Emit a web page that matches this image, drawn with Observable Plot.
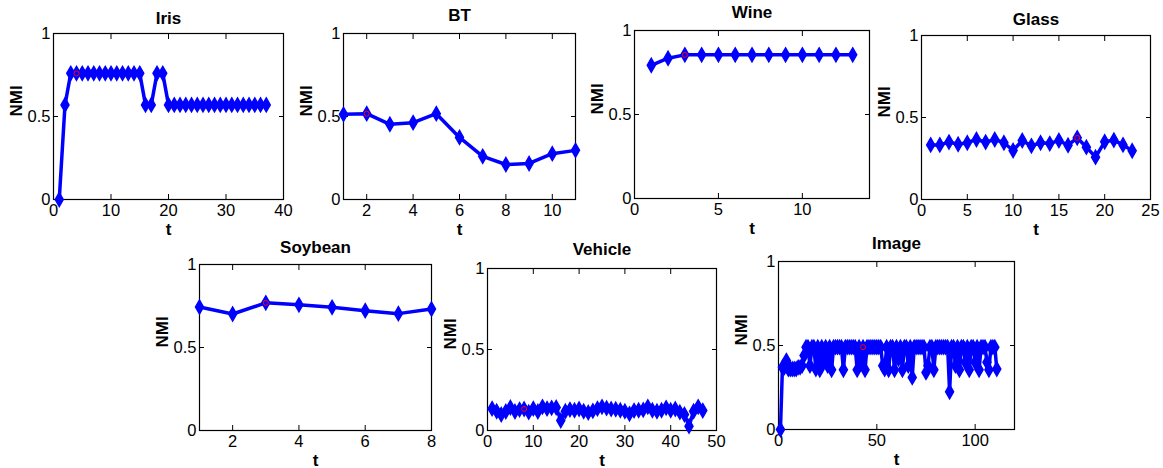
<!DOCTYPE html>
<html><head><meta charset="utf-8">
<script src="https://cdn.jsdelivr.net/npm/d3@7"></script>
<script src="https://cdn.jsdelivr.net/npm/@observablehq/plot@0.6"></script>
<style>
body{margin:0;background:#fff;overflow:hidden}
#wrap{position:relative;width:1163px;height:468px;overflow:hidden;background:#fff}
#wrap svg{position:absolute;overflow:visible}
</style></head><body><div id="wrap"></div>
<script>
// ---- data ----
const titles = ["Iris", "BT", "Wine", "Glass", "Soybean", "Vehicle", "Image"];
const iris = [0, 0.57, 0.76, 0.76, 0.76, 0.76, 0.76, 0.76, 0.76, 0.76, 0.76, 0.76, 0.76, 0.76, 0.76,
  0.57, 0.57, 0.76, 0.76,
  0.57, 0.57, 0.57, 0.57, 0.57, 0.57, 0.57, 0.57, 0.57, 0.57, 0.57, 0.57, 0.57, 0.57, 0.57, 0.57, 0.57, 0.57];
const bt = [0.513, 0.517, 0.453, 0.463, 0.517, 0.374, 0.26, 0.211, 0.217, 0.276, 0.296];
const wine = [0.793, 0.835, 0.855, 0.855, 0.855, 0.855, 0.855, 0.855, 0.855, 0.855, 0.855, 0.855, 0.855];
const glass = [0.333, 0.333, 0.35, 0.337, 0.346, 0.366, 0.35, 0.366, 0.346, 0.299, 0.36, 0.327, 0.346,
  0.341, 0.36, 0.331, 0.376, 0.319, 0.258, 0.352, 0.362, 0.333, 0.297];
const soybean = [0.744, 0.702, 0.769, 0.757, 0.742, 0.722, 0.704, 0.732];
const vehicle = [0.135, 0.119, 0.099, 0.117, 0.142, 0.117, 0.129, 0.133, 0.113, 0.135, 0.117, 0.146,
  0.135, 0.14, 0.142, 0.062, 0.119, 0.129, 0.125, 0.133, 0.119, 0.111, 0.121, 0.135, 0.146, 0.138,
  0.133, 0.131, 0.125, 0.119, 0.103, 0.123, 0.125, 0.127, 0.146, 0.125, 0.119, 0.125, 0.14, 0.125,
  0.133, 0.113, 0.099, 0.027, 0.119, 0.146, 0.123];
const image = [0, 0.37, 0.37, 0.41, 0.36, 0.36, 0.36, 0.36, 0.36, 0.37, 0.37, 0.38, 0.44, 0.49, 0.49,
  0.38, 0.49, 0.49, 0.36, 0.49, 0.355, 0.49, 0.40, 0.49, 0.38, 0.49, 0.355, 0.49, 0.49, 0.49,
  0.49, 0.49, 0.355, 0.49, 0.49, 0.49, 0.49, 0.49, 0.49, 0.355, 0.49, 0.40, 0.49, 0.355, 0.49,
  0.49, 0.49, 0.49, 0.49, 0.49, 0.49, 0.49, 0.38, 0.36, 0.49, 0.355, 0.49, 0.49, 0.355, 0.49,
  0.42, 0.49, 0.355, 0.49, 0.49, 0.38, 0.49, 0.31, 0.49, 0.49, 0.49, 0.49, 0.49, 0.49, 0.34,
  0.38, 0.49, 0.49, 0.355, 0.49, 0.49, 0.49, 0.49, 0.49, 0.49, 0.49, 0.225, 0.49, 0.49, 0.38,
  0.49, 0.355, 0.49, 0.49, 0.40, 0.49, 0.355, 0.49, 0.49, 0.40, 0.49, 0.355, 0.49, 0.49, 0.49,
  0.40, 0.355, 0.49, 0.49, 0.49, 0.36];
const series = [iris, bt, wine, glass, soybean, vehicle, image];
const bestT = [4, 2, 3, 17, 3, 8, 43];
const xDomains = [[0, 40], [1, 11], [0, 14], [0, 25], [1, 8], [0, 50], [0, 120]];
const xTicks = [[0, 10, 20, 30, 40], [2, 4, 6, 8, 10], [0, 5, 10], [0, 5, 10, 15, 20, 25],
  [2, 4, 6, 8], [0, 10, 20, 30, 40, 50], [0, 50, 100]];
const yTicks = [0, 0.5, 1];
const yLabel = "NMI";
const xLabel = "t";

// ---- layout (frame left, top, width, height, title gap) ----
const frames = [
  [53, 33, 230, 166, 10], [343, 33, 232, 166, 13], [634, 30, 235, 168, 13], [921, 35, 229, 164, 11],
  [199, 264, 232, 166, 12], [487, 268, 229, 162, 14], [778, 261, 236, 168, 13]
];
const ML = 60, MR = 15, MT = 36, MB = 40;
const FONT = '"Liberation Sans", Arial, Helvetica, sans-serif';
const BLUE = "#0000ff";

const wrap = document.getElementById("wrap");
titles.forEach((title, k) => {
  const [fl, ft, fw, fh, tg] = frames[k];
  const data = series[k].map((v, i) => ({t: i + 1, v}));
  const best = data.filter(d => d.t === bestT[k]);
  const svg = Plot.plot({
    width: fw + ML + MR, height: fh + MT + MB,
    marginLeft: ML, marginRight: MR, marginTop: MT, marginBottom: MB,
    style: {fontFamily: FONT, fontSize: "16.5px", background: "transparent", color: "black", overflow: "visible"},
    x: {domain: xDomains[k], label: null},
    y: {domain: [0, 1], label: null},
    marks: [
      Plot.axisX(xTicks[k], {anchor: "bottom", tickSize: -5, tickPadding: 10, tickFormat: d => String(d), fontSize: 16.5, label: null}),
      Plot.axisX(xTicks[k], {anchor: "top", tickSize: -5, tickFormat: () => "", label: null}),
      Plot.axisY(yTicks, {anchor: "left", tickSize: -5, tickPadding: 8, tickFormat: d => String(d), fontSize: 16.5, label: null}),
      Plot.axisY(yTicks, {anchor: "right", tickSize: -5, tickFormat: () => "", label: null}),
      Plot.frame({stroke: "black", strokeWidth: 1.2}),
      Plot.line(data, {x: "t", y: "v", stroke: BLUE, strokeWidth: 3.5, strokeLinejoin: "round"}),
      Plot.dot(data, {x: "t", y: "v", symbol: "diamond", r: 4.2, fill: BLUE, stroke: BLUE}),
      Plot.dot(best, {x: "t", y: "v", r: 2.5, stroke: "red", fill: "none", strokeWidth: 1}),
      Plot.text([title], {text: d => d, frameAnchor: "top", dy: -tg, lineAnchor: "bottom", fontWeight: "bold", fontSize: 17}),
      Plot.text([xLabel], {text: d => d, frameAnchor: "bottom", dy: 35, lineAnchor: "bottom", fontWeight: "bold", fontSize: 17}),
      Plot.text([yLabel], {text: d => d, frameAnchor: "left", dx: -37, rotate: -90, lineAnchor: "middle", fontWeight: "bold", fontSize: 17})
    ]
  });
  svg.style.left = (fl - ML) + "px";
  svg.style.top = (ft - MT) + "px";
  wrap.appendChild(svg);
});
</script></body></html>
